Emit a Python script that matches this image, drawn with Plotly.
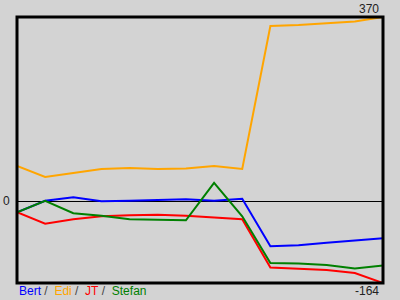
import plotly.graph_objects as go

x = list(range(14))
bert = [-22, 1, 8, 0, 1, 2, 4, 1, 5, -90, -88, -83, -78, -74]
edi = [71, 49, 57, 65, 67, 65, 66, 71, 65, 352, 354, 357, 361, 370]
jt = [-22, -45, -36, -30, -28, -27, -29, -32, -36, -133, -135, -138, -144, -164]
stefan = [-22, 1, -24, -29, -36, -37, -38, 37, -30, -124, -125, -128, -135, -129]

names = ["Bert", "Edi", "JT", "Stefan"]
colors = ["blue", "orange", "red", "green"]
series = [bert, edi, jt, stefan]

ymax = max(max(s) for s in series)
ymin = min(min(s) for s in series)

fig = go.Figure()
for n, c, s in zip(names, colors, series):
    fig.add_trace(go.Scatter(x=x, y=s, mode="lines", name=n,
                             line=dict(color=c, width=2), hoverinfo="skip"))

bg = "#d3d3d3"
font = dict(family="Liberation Sans, Arial, sans-serif", size=12, color="#222")
legend_text = "&nbsp;<span style='color:#444'>/</span>&nbsp;&nbsp;".join(
    f"<span style='color:{c}'>{n}</span>" for n, c in zip(names, colors))

fig.update_layout(
    width=400, height=300,
    margin=dict(l=17, r=17, t=17, b=17),
    paper_bgcolor=bg, plot_bgcolor=bg,
    showlegend=False,
    font=font,
    xaxis=dict(range=[0, 13], showgrid=False, zeroline=False,
               showticklabels=False, ticks=""),
    yaxis=dict(range=[ymin, ymax], showgrid=False, zeroline=True,
               zerolinecolor="black", zerolinewidth=1,
               showticklabels=False, ticks=""),
    shapes=[dict(type="rect", xref="paper", yref="paper", x0=0, x1=1, y0=0, y1=1,
                 line=dict(color="black", width=3), layer="above")],
    annotations=[
        dict(text=str(ymax), xref="paper", yref="paper", x=1, y=1,
             xanchor="right", yanchor="bottom", xshift=-2, yshift=-1,
             showarrow=False, font=font),
        dict(text=str(ymin), xref="paper", yref="paper", x=1, y=0,
             xanchor="right", yanchor="top", xshift=-2, yshift=1,
             showarrow=False, font=font),
        dict(text="0", xref="paper", yref="y", x=0, y=0,
             xanchor="right", yanchor="middle", xshift=-5,
             showarrow=False, font=font),
        dict(text=legend_text, xref="paper", yref="paper", x=0, y=0,
             xanchor="left", yanchor="top", xshift=0, yshift=1,
             showarrow=False, font=font),
    ],
)

fig.write_html("out.html")
